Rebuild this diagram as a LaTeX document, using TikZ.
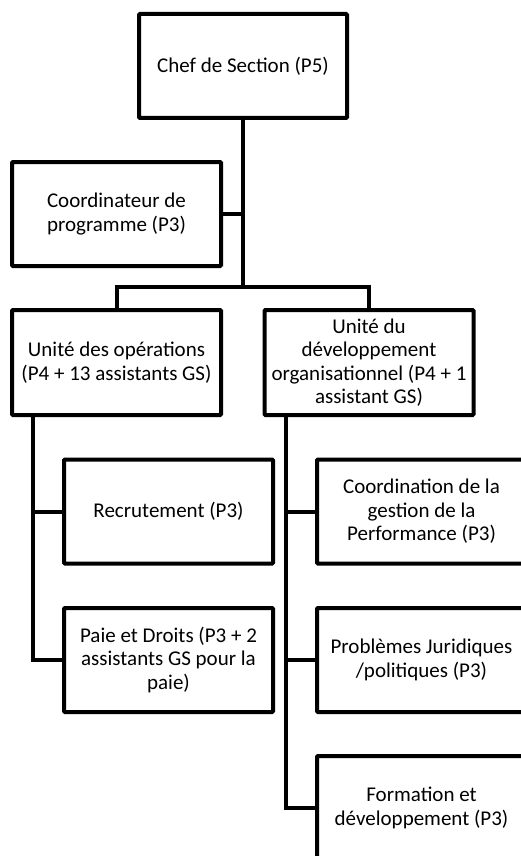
\documentclass[tikz,border=0pt]{standalone}
\usepackage{fontspec}
\setmainfont{Carlito}
\begin{document}
\begin{tikzpicture}[x=1pt,y=-1pt,
  box/.style={draw=black,line width=4pt,rounded corners=1pt,align=center,
    minimum width=209pt,minimum height=104pt,inner sep=1pt,
    font=\fontsize{21}{23.5}\selectfont},
  conn/.style={draw=black,line width=4pt}]
\useasboundingbox (0,0) rectangle (521,856);
\clip (0,0) rectangle (521,856);
\node[box,minimum width=208pt] (chef) at (243,66) {Chef de Section (P5)};
\node[box] (coord) at (116.5,214) {Coordinateur de\\programme (P3)};
\node[box,minimum height=105pt] (ops) at (116.5,362.5) {Unité des opérations\\(P4 + 13 assistants GS)};
\node[box,minimum height=105pt] (dev) at (369,362.5) {Unité du\\développement\\organisationnel (P4 + 1\\assistant GS)};
\node[box] (recr) at (168.5,511.5) {Recrutement (P3)};
\node[box] (paie) at (168.5,660) {Paie et Droits (P3 + 2\\assistants GS pour la\\paie)};
\node[box] (perf) at (421.5,511.5) {Coordination de la\\gestion de la\\Performance (P3)};
\node[box] (prob) at (421.5,660) {Problèmes Juridiques\\/politiques (P3)};
\node[box] (form) at (421.5,808) {Formation et\\développement (P3)};
% connectors
\coordinate (bar) at (243,287);
\draw[conn] (chef.south) -- (bar);
\draw[conn] (coord.east) -- (coord.east -| chef.south);
\draw[conn] (ops.north) -- (ops.north |- bar) -- (dev.north |- bar) -- (dev.north);
\coordinate (ls) at (33,417);
\coordinate (rs) at (286,417);
\draw[conn] (ls |- ops.south) -- (ls |- paie.west) -- (paie.west);
\draw[conn] (ls |- recr.west) -- (recr.west);
\draw[conn] (rs |- dev.south) -- (rs |- form.west) -- (form.west);
\draw[conn] (rs |- perf.west) -- (perf.west);
\draw[conn] (rs |- prob.west) -- (prob.west);
\end{tikzpicture}
\end{document}
